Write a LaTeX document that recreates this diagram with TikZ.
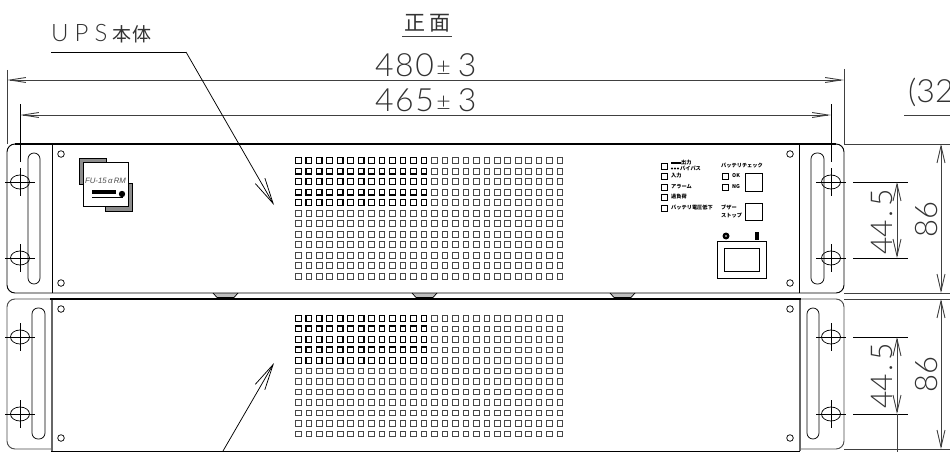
\documentclass[tikz,border=0pt]{standalone}
\usepackage{fontspec}
\usetikzlibrary{arrows.meta}
\newfontfamily\cadfont{Lato Light}
\newfontfamily\cjkfont{Noto Sans CJK JP}
\newcommand{\cadtext}[1]{\fontsize{#1}{#1}\selectfont\cadfont}
\definecolor{inkgrey}{gray}{0.2}
\definecolor{dimgrey}{gray}{0.25}
\tikzset{
  outline/.style={draw=black,line width=0.95pt},
  thinline/.style={draw=black,line width=0.75pt},
  dimext/.style={draw=dimgrey,line width=0.9pt},
  dimarrowh/.style={draw=dimgrey,line width=0.9pt,{Straight Barb[length=16pt,width=5pt]}-{Straight Barb[length=16pt,width=5pt]}},
  dimarrowv/.style={draw=dimgrey,line width=0.9pt,{Straight Barb[length=17pt,width=8pt]}-{Straight Barb[length=17pt,width=8pt]}},
  leader/.style={draw=black,line width=0.75pt,-{Straight Barb[length=26pt,width=11pt]}},
  cadlabel/.style={inner sep=0pt,text=inkgrey},
  tinylabel/.style={inner sep=0pt,anchor=west,text=black,font=\cjkfont\bfseries\fontsize{5.2}{5.2}\selectfont},
  ledbox/.style={draw=black,line width=0.75pt,fill=white},
  gridthin/.style={draw=black!72,line width=0.9pt},
  gridthick/.style={draw=black,line width=1.15pt},
  hatchgrey/.style={draw=black,line width=1pt,fill=black!45},
  tabshape/.style={draw=black,line width=0.7pt,fill=black!25},
  holeline/.style={draw=black,line width=0.75pt}
}
\newcommand{\ventgrid}[1]{%
  \foreach \rowi in {0,...,11}{\foreach \coli in {0,...,25}{
    \path[gridthin] ({298.3+10.47*\coli-2.8},{#1+10.5*\rowi-2.8}) rectangle ++(5.6,5.6);}}
  \foreach \rowi in {0,...,4}{\foreach \coli in {0,...,12}{
    \path[gridthick] ({298.3+10.47*\coli-2.8},{#1+10.5*\rowi-2.8}) rectangle ++(5.6,5.6);}}
}
\newcommand{\mounthole}[2]{%
  \draw[holeline] (#1,#2) ellipse (9.5 and 7);
  \draw[holeline] ({#1-15},#2) -- ({#1+15},#2);
  \draw[holeline] (#1,{#2-14}) -- (#1,{#2+14});
}
\begin{document}
\begin{tikzpicture}[x=1pt,y=-1pt]
\useasboundingbox (0,0) rectangle (950,452);
\fill[white] (0,0) rectangle (950,452);
\clip (0,0) rectangle (950,452);

% named anchors
\coordinate (L480) at (7,80);   \coordinate (R480) at (844,80);
\coordinate (L465) at (20,115); \coordinate (R465) at (831,115);
\coordinate (leadA0) at (51,52); \coordinate (leadA1) at (186,52); \coordinate (leadA2) at (274,205);
\coordinate (leadB0) at (223,451); \coordinate (leadB1) at (274,363);
\coordinate (A86T) at (941,144); \coordinate (A86B) at (941,293);
\coordinate (A44T) at (897,182); \coordinate (A44B) at (897,258);
\coordinate (B86T) at (941,299); \coordinate (B86B) at (941,449);
\coordinate (B44T) at (897,337); \coordinate (B44B) at (897,414); \coordinate (B44E) at (897,452);

% tabs between units
\foreach \tabx in {213,412,610}{
  \path[tabshape] (\tabx,293) -- ({\tabx+4},297.5) -- ({\tabx+21},297.5) -- ({\tabx+25},293);
}

% upper unit
\draw[outline,rounded corners=8pt] (7,144) rectangle (844,293);
\draw[draw=black,line width=1.3pt] (15,144) -- (836,144);
\draw[outline] (52.7,144) -- (52.7,293);
\draw[outline] (799,144) -- (799,293);
\draw[thinline,rounded corners=6pt] (28,153) rectangle (40,284);
\draw[thinline,rounded corners=6pt] (811,153) rectangle (824,284);
\mounthole{20}{182}\mounthole{20}{258}\mounthole{831}{182}\mounthole{831}{258}
\foreach \cx/\cy in {61/154,61/283,790/154,790/283}{\draw[thinline] (\cx,\cy) circle (3.3);}
\ventgrid{160.7}

% logo
\path[hatchgrey] (79,158) rectangle (106,184);
\path[hatchgrey] (105,183) rectangle (132,211);
\draw[thinline,fill=white] (83,162) rectangle (128,206);
\node[inner sep=0pt,text=black!70] (logotext) at (105.5,181) {\fontsize{7.8}{8}\selectfont\fontspec{Liberation Sans}\itshape FU-15\,α\,RM};
\fill[black] (92,190) rectangle (116,194);
\draw[draw=black,line width=0.8pt] (92,197) -- (123,197);
\fill[black] (122,194) circle (3.2);

% indicator panel
\foreach \ly in {166,176,187,197,208}{\path[ledbox] (661,{\ly-3}) rectangle (667,{\ly+3});}
\path[ledbox] (722,173) rectangle (728,179);
\path[ledbox] (722,184) rectangle (728,190);
\draw[draw=black,line width=1.4pt] (671,163) -- (681,163);
\foreach \dotx in {672,675,678}{\fill[black] (\dotx,168.5) circle (1.2);}
\node[tinylabel] (lblout) at (681,163) {出力};
\node[tinylabel] (lblby) at (680,168.5) {バイパス};
\node[tinylabel] (lblin) at (671,176) {入力};
\node[tinylabel] (lblal) at (671,187) {アラーム};
\node[tinylabel] (lblov) at (671,197) {過負荷};
\node[tinylabel] (lblbat) at (671,208) {バッテリ電圧低下};
\node[tinylabel] (lblchk) at (721,166) {バッテリチェック};
\node[tinylabel] (lblok) at (732,176) {OK};
\node[tinylabel] (lblng) at (732,187) {NG};
\node[tinylabel] (lblbz) at (721,207) {ブザー};
\node[tinylabel] (lblst) at (721,216) {ストップ};
\draw[thinline] (745,173) rectangle (762,191);
\draw[thinline] (745,203) rectangle (762,220);
\fill[black] (726,236) circle (3.5);
\fill[white] (726,236) circle (0.8);
\fill[black] (755,232) rectangle (759,240);
\draw[thinline,line width=0.9pt] (717,241) rectangle (766,278);
\draw[thinline,line width=0.9pt] (724,248) rectangle (759,271);

% lower unit
\draw[outline,draw=black!70,rounded corners=8pt] (51,299) -- (7,299) -- (7,449) -- (51,449);
\draw[outline,draw=black!70,rounded corners=8pt] (800,299) -- (844,299) -- (844,449) -- (800,449);
\draw[draw=black!60,line width=2pt] (51.5,299) -- (51.5,451);
\draw[draw=black!60,line width=1.8pt] (800,299) -- (800,451);
\draw[draw=black,line width=0.9pt] (51,451) -- (800,451);
\draw[draw=black,line width=1.8pt] (50,299) -- (801,299);
\draw[thinline,rounded corners=6pt] (32,308) rectangle (45,439);
\draw[thinline,rounded corners=6pt] (807,308) rectangle (819,439);
\mounthole{20}{337}\mounthole{20}{414}\mounthole{831}{337}\mounthole{831}{414}
\foreach \cx/\cy in {61/309,61/438,790/309,790/438}{\draw[thinline] (\cx,\cy) circle (3.3);}
\ventgrid{318.3}

% dimensions: width
\draw[dimext] (7,70) -- (7,144);
\draw[dimext] (844,69) -- (844,144);
\draw[thinline] (20,104) -- (20,162);
\draw[thinline] (831,104) -- (831,162);
\draw[dimarrowh] (L480) -- (R480);
\draw[dimarrowh] (L465) -- (R465);
\node[cadlabel,anchor=base west] (d480) at (375,76) {\cadtext{32}4\hspace{1.5pt}8\hspace{1.5pt}0\hspace{2.5pt}\fontsize{25}{25}\selectfont\raisebox{1pt}{±}\hspace{7pt}\cadtext{32}3};
\node[cadlabel,anchor=base west] (d465) at (375,111) {\cadtext{32}4\hspace{1.5pt}6\hspace{1.5pt}5\hspace{2.5pt}\fontsize{25}{25}\selectfont\raisebox{1pt}{±}\hspace{7pt}\cadtext{32}3};

% dimensions: height
\draw[dimext] (844,144) -- (950,144);
\draw[dimext] (844,293) -- (950,293);
\draw[dimext] (844,299) -- (950,299);
\draw[dimext] (844,449) -- (950,449);
\draw[thinline] (853,182) -- (908,182);
\draw[thinline] (853,258) -- (908,258);
\draw[thinline] (853,337) -- (908,337);
\draw[thinline] (853,414) -- (908,414);
\draw[dimarrowv] (A86T) -- (A86B);
\draw[dimarrowv] (A44T) -- (A44B);
\draw[dimarrowv] (B86T) -- (B86B);
\draw[dimarrowv] (B44T) -- (B44B);
\draw[dimext] (B44B) -- (B44E);
\node[cadlabel,rotate=90,anchor=base west] (a86) at (937,238) {\cadtext{31}86};
\node[cadlabel,rotate=90,anchor=base west] (a44) at (892,255) {\cadtext{30}44\hspace{3pt}.\hspace{3pt}5};
\node[cadlabel,rotate=90,anchor=base west] (b86) at (937,393) {\cadtext{31}86};
\node[cadlabel,rotate=90,anchor=base west] (b44) at (892,409) {\cadtext{30}44\hspace{3pt}.\hspace{3pt}5};

% titles
\node[cadlabel,anchor=base west] (front) at (404,31) {\cjkfont\fontsize{21}{21}\selectfont 正\hspace{4pt}面};
\draw[dimext] (402,36) -- (452,36);
\node[cadlabel,anchor=base west] (depth) at (908,102) {\cadtext{32}(32};
\draw[dimext] (904,115.5) -- (950,115.5);

% leaders
\node[cadlabel,anchor=base west] (ups) at (51,42) {\cadtext{24}U\hspace{6pt}P\hspace{6pt}S\hspace{5pt}\cjkfont\fontsize{19}{19}\selectfont 本\hspace{1pt}体};
\draw[thinline] (leadA0) -- (leadA1);
\draw[leader] (leadA1) -- (leadA2);
\draw[leader] (leadB0) -- (leadB1);
\end{tikzpicture}
\end{document}
